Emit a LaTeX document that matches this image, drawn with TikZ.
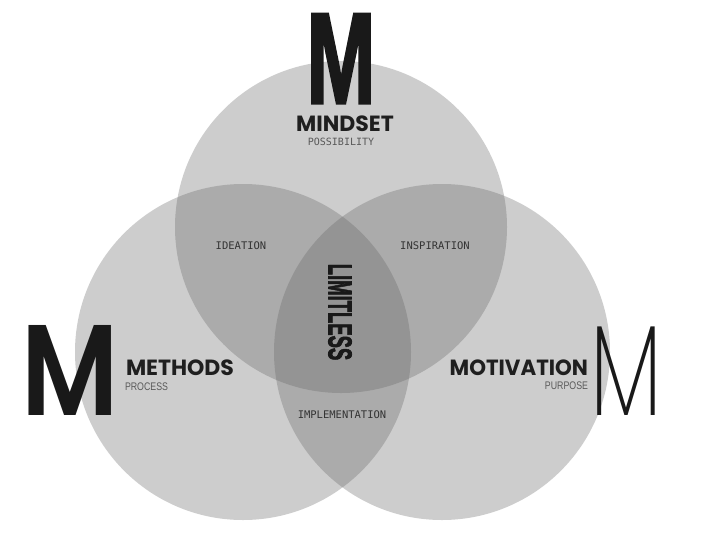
\documentclass[tikz,border=0pt]{standalone}
\usepackage{fontspec}
\setmainfont{Poppins}
\newfontfamily\popsemi{Poppins SemiBold}
\newfontfamily\poplight{Poppins ExtraLight}
\newfontfamily\condbold{Liberation Sans}[BoldFeatures={FakeBold=2.5}]
\newfontfamily\monolab{DejaVu Sans Mono}
\newfontfamily\smallsans{Liberation Sans}
\definecolor{circfill}{gray}{0.4}
\definecolor{labgray}{gray}{0.2}
\definecolor{subgray}{gray}{0.35}
\tikzset{
  venn/.style={fill=circfill, fill opacity=0.325, draw=none},
  txt/.style={inner sep=0pt, outer sep=0pt},
  head/.style={txt, font=\bfseries\fontsize{22}{22}\selectfont, text=black!88},
  sub/.style={txt, font=\smallsans\fontsize{11}{11}\selectfont, text=subgray},
  mono/.style={txt, font=\monolab\fontsize{10.5}{10.5}\selectfont, text=labgray}
}
\begin{document}
\begin{tikzpicture}[x=1pt,y=-1pt]
\useasboundingbox (0,0) rectangle (722,536);
\fill[white] (0,0) rectangle (722,536);
% circles
\fill[venn] (341,227) circle[radius=166pt];
\fill[venn] (243,352) circle[radius=168pt];
\fill[venn] (442,352) circle[radius=168pt];
% big letters
\node[txt, anchor=base, text=black!90] (mtop) at (341,103)
  {\scalebox{0.64}[1]{\condbold\bfseries\fontsize{129}{129}\selectfont M}};
\node[txt, anchor=base, text=black!90] (mleft) at (70,415)
  {\scalebox{0.84}[1]{\popsemi\fontsize{129}{129}\selectfont M}};
\node[txt, anchor=base, text=black!90] (mright) at (626,415)
  {\scalebox{0.68}[1]{\poplight\fontsize{129}{129}\selectfont M}};
% headings
\node[head, anchor=base] (mindset) at (345,131) {MINDSET};
\node[sub, anchor=base] (possib) at (341,145) {\monolab\fontsize{10}{10}\selectfont POSSIBILITY};
\node[head, anchor=base west] (methods) at (126,375) {METHODS};
\node[sub, anchor=base west] (process) at (125,390) {\scalebox{0.8}[1]{PROCESS}};
\node[head, anchor=base east] (motiv) at (588,375) {\scalebox{0.97}[1]{MOTIVATION}};
\node[sub, anchor=base east] (purpose) at (588,389.5) {\scalebox{0.8}[1]{PURPOSE}};
% region labels
\node[mono] (ideation) at (241,246) {IDEATION};
\node[mono] (inspir) at (435,246) {INSPIRATION};
\node[mono] (implem) at (342,415) {IMPLEMENTATION};
\node[txt, rotate=-90, text=black!90] (limitless) at (340,312)
  {\scalebox{0.56}[1]{\condbold\bfseries\fontsize{33}{33}\selectfont LIMITLESS}};
\end{tikzpicture}
\end{document}
